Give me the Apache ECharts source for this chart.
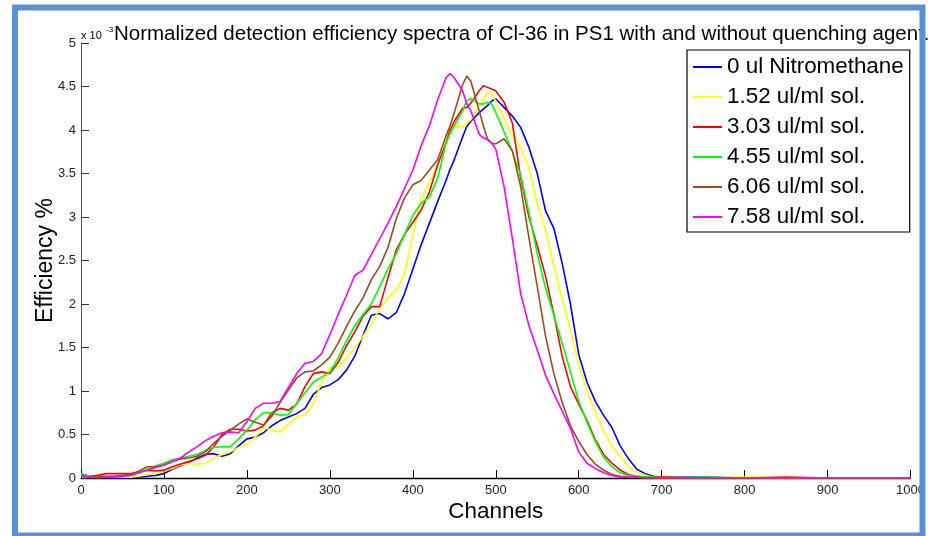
<!DOCTYPE html>
<html><head><meta charset="utf-8">
<script src="https://cdn.jsdelivr.net/npm/echarts@6/dist/echarts.min.js"></script>
<style>html,body{margin:0;padding:0;background:#fff}#c{width:928px;height:536px}</style>
</head><body><div id="c"></div>
<script>
// Channel grid (x values)
const channels = [0,10,20,30,40,50,60,70,80,90,100,110,120,130,140,150,160,170,180,190,200,210,220,230,240,250,260,270,280,290,300,310,320,330,340,350,360,370,380,390,400,410,420,430,440,445,450,460,465,470,480,485,490,495,500,510,520,530,540,550,560,570,580,590,600,610,620,630,640,650,660,670,680,690,700,750,800,850,900,950,1000];

const seriesNames = ['0 ul Nitromethane','1.52 ul/ml sol.','3.03 ul/ml sol.','4.55 ul/ml sol.','6.06 ul/ml sol.','7.58 ul/ml sol.'];

// Efficiency values (x 10^-3)
const nitro0 = [0.05,0.02,0.01,0.01,0.0,0.0,0.0,0.01,0.02,0.03,0.05,0.1,0.14,0.18,0.23,0.27,0.28,0.25,0.28,0.37,0.45,0.47,0.52,0.6,0.66,0.7,0.74,0.8,0.96,1.04,1.07,1.13,1.24,1.4,1.64,1.87,1.89,1.83,1.9,2.12,2.4,2.68,2.93,3.18,3.42,3.55,3.66,3.92,4.04,4.1,4.2,4.24,4.28,4.33,4.36,4.26,4.16,4.03,3.8,3.5,3.07,2.87,2.47,2.0,1.42,1.1,0.88,0.72,0.58,0.37,0.22,0.1,0.05,0.02,0.01,0.01,0.0,0.0,0.0,0.0,0.0];
const sol152 = [0.03,0.02,0.01,0.01,0.01,0.01,0.01,0.02,0.04,0.05,0.08,0.11,0.15,0.17,0.16,0.17,0.23,0.27,0.3,0.35,0.39,0.47,0.58,0.55,0.53,0.62,0.7,0.73,0.85,1.1,1.26,1.28,1.38,1.5,1.63,1.77,1.95,2.07,2.16,2.35,2.8,3.22,3.4,3.6,3.85,3.98,4.04,4.04,4.08,4.12,4.28,4.36,4.43,4.42,4.33,4.13,3.93,3.8,3.56,3.15,2.84,2.43,2.06,1.7,1.3,1.0,0.75,0.54,0.37,0.25,0.13,0.07,0.03,0.01,0.01,0.0,0.01,0.0,0.0,0.0,0.0];
const sol303 = [0.03,0.02,0.03,0.05,0.05,0.05,0.05,0.07,0.09,0.08,0.09,0.13,0.16,0.19,0.22,0.26,0.36,0.5,0.56,0.56,0.54,0.55,0.6,0.75,0.8,0.78,0.85,1.05,1.2,1.22,1.2,1.33,1.52,1.68,1.86,1.97,1.97,2.3,2.62,2.8,2.94,3.08,3.29,3.6,3.85,4.0,4.1,4.25,4.26,4.31,4.45,4.51,4.49,4.47,4.45,4.32,4.08,3.45,3.0,2.67,2.32,1.88,1.4,1.05,0.85,0.66,0.44,0.27,0.17,0.09,0.04,0.02,0.01,0.01,0.01,0.0,0.0,0.01,0.0,0.0,0.0];
const sol455 = [0.05,0.02,0.01,0.01,0.02,0.02,0.03,0.06,0.1,0.14,0.17,0.21,0.23,0.25,0.27,0.32,0.35,0.36,0.36,0.45,0.55,0.67,0.75,0.75,0.72,0.73,0.86,0.98,1.1,1.16,1.22,1.38,1.58,1.75,1.88,2.0,2.2,2.4,2.58,2.8,3.02,3.16,3.23,3.45,3.85,3.96,4.05,4.22,4.34,4.36,4.3,4.3,4.32,4.3,4.2,3.98,3.75,3.48,3.05,2.58,2.18,1.87,1.55,1.22,0.88,0.64,0.42,0.24,0.13,0.06,0.03,0.02,0.01,0.01,0.0,0.01,0.0,0.0,0.0,0.0,0.0];
const sol606 = [0.02,0.01,0.01,0.02,0.02,0.03,0.04,0.08,0.13,0.13,0.15,0.19,0.22,0.23,0.25,0.3,0.4,0.48,0.55,0.62,0.68,0.64,0.61,0.71,0.87,1.01,1.15,1.22,1.23,1.3,1.39,1.55,1.74,1.92,2.07,2.28,2.43,2.65,2.98,3.22,3.37,3.42,3.54,3.66,3.93,4.05,4.2,4.52,4.62,4.56,4.22,4.05,3.9,3.85,3.84,3.9,3.76,3.35,2.76,2.2,1.63,1.2,0.87,0.6,0.42,0.27,0.16,0.09,0.04,0.02,0.01,0.01,0.0,0.0,0.0,0.0,0.0,0.0,0.0,0.0,0.0];
const sol758 = [0.02,0.01,0.0,0.01,0.01,0.02,0.03,0.06,0.09,0.12,0.15,0.19,0.23,0.3,0.36,0.43,0.48,0.52,0.53,0.52,0.65,0.8,0.86,0.86,0.88,1.04,1.2,1.32,1.34,1.43,1.65,1.88,2.1,2.33,2.39,2.57,2.75,2.93,3.12,3.33,3.54,3.82,4.05,4.35,4.6,4.65,4.6,4.45,4.3,4.22,3.95,3.91,3.89,3.85,3.78,3.35,2.75,2.12,1.75,1.47,1.18,0.97,0.77,0.57,0.3,0.17,0.11,0.06,0.03,0.01,0.01,0.01,0.0,0.0,0.0,0.0,0.0,0.0,0.0,0.0,0.0];

const seriesValues = [nitro0, sol152, sol303, sol455, sol606, sol758];
const colors = ['#0000ff','#ffff00','#ff0000','#00ff00','#a04a1c','#ff00ff'];

const xTicks = {min:0, max:1000, step:100};
const yTicks = {min:0, max:5, step:0.5};

const FONT = '"Liberation Sans", Arial, sans-serif';
const chart = echarts.init(document.getElementById('c'), null, {renderer:'canvas'});

const series = seriesValues.map((vals, i) => ({
  name: seriesNames[i],
  type: 'line',
  data: channels.map((c, k) => [c, vals[k]]),
  showSymbol: false,
  symbol: 'none',
  smooth: false,
  lineStyle: {color: colors[i], width: 1.6},
  itemStyle: {color: colors[i]},
  emphasis: {disabled: true}
}));

chart.setOption({
  animation: false,
  textStyle: {fontFamily: FONT},
  title: {
    text: 'Normalized detection efficiency spectra of Cl-36 in PS1 with and without quenching agent.',
    left: 114, top: 24, padding: 0,
    textStyle: {fontSize: 20.5, fontWeight: 'normal', color: '#000', fontFamily: FONT}
  },
  grid: {left: 81, right: 17, top: 43, bottom: 58, containLabel: false},
  legend: {
    orient: 'vertical', left: 687, top: 50,
    padding: [2, 6, 0, 6], itemGap: 0, itemWidth: 29, itemHeight: 2, icon: 'rect',
    borderColor: '#000', borderWidth: 1.2, backgroundColor: '#fff',
    textStyle: {fontSize: 22.4, lineHeight: 30, color: '#000', fontFamily: FONT},
    data: seriesNames, selectedMode: false
  },
  xAxis: {
    type: 'value', min: xTicks.min, max: xTicks.max, interval: xTicks.step,
    name: 'Channels', nameLocation: 'middle', nameGap: 22, nameMoveOverlap: false,
    nameTextStyle: {fontSize: 22.5, color: '#000', fontFamily: FONT},
    axisLine: {show: true, lineStyle: {color: '#000', width: 1.3}},
    axisTick: {show: true, inside: true, length: 8, lineStyle: {color: '#000'}},
    axisLabel: {fontSize: 13, color: '#222', margin: 6, fontFamily: FONT,
                formatter: v => String(v)},
    splitLine: {show: false}
  },
  yAxis: {
    type: 'value', min: yTicks.min, max: yTicks.max, interval: yTicks.step,
    name: 'Efficiency %', nameLocation: 'middle', nameGap: 24, nameMoveOverlap: false,
    nameTextStyle: {fontSize: 23, color: '#000', fontFamily: FONT},
    axisLine: {show: true, lineStyle: {color: '#555', width: 1}},
    axisTick: {show: true, inside: true, length: 8, lineStyle: {color: '#333'}},
    axisLabel: {fontSize: 13, color: '#222', margin: 5, fontFamily: FONT},
    splitLine: {show: false}
  },
  graphic: [
    {type: 'text', left: 81, top: 30, silent: true,
     style: {text: 'x 10', fontSize: 11, fill: '#000', fontFamily: FONT}},
    {type: 'text', left: 106, top: 26, silent: true,
     style: {text: '-3', fontSize: 8, fill: '#000', fontFamily: FONT}},
    {type: 'rect', z: 100, silent: true,
     shape: {x: 15, y: 7.5, width: 907.5, height: 528},
     style: {fill: null, stroke: '#5b8fd6', lineWidth: 6}}
  ],
  series: series
});
</script>
</body></html>
